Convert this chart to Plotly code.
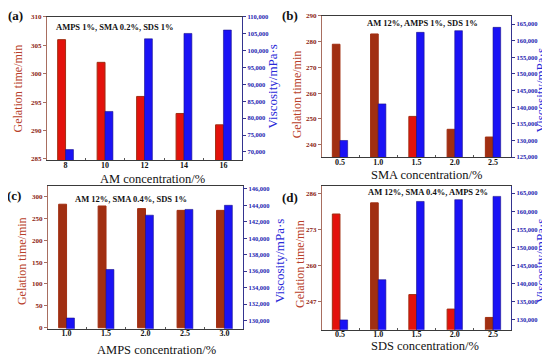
import plotly.graph_objects as go

# ---- data ----
am_conc = ["8", "10", "12", "14", "16"]
am_gel = [306, 302, 296, 293, 291]
am_visc = [70700, 82000, 103500, 105100, 106100]

sma_conc = ["0.5", "1.0", "1.5", "2.0", "2.5"]
sma_gel = [279, 283, 251, 246, 243]
sma_visc = [130000, 141000, 162500, 163000, 164000]

amps_conc = ["1.0", "1.5", "2.0", "2.5", "3.0"]
amps_gel = [282, 278, 272, 268, 268]
amps_visc = [130300, 136200, 142800, 143500, 144000]

sds_conc = ["0.5", "1.0", "1.5", "2.0", "2.5"]
sds_gel = [278.5, 282.5, 249.6, 244.4, 241.4]
sds_visc = [130000, 141100, 162700, 163200, 164100]

W, H = 550, 361
OX, OY = 8, 8   # page offset of the figure inside the browser window
RED = "#e3120c"
BROWN = "#a12f12"
BLUE = "#1a12f5"
FONT = "Liberation Serif"

def px(x):
    return (x - OX) / W

def py(y):
    return 1 - (y - OY) / H

panels = [
    dict(cats=am_conc, gel=am_gel, visc=am_visc,
         xd=(47, 242), yd=(13, 159),
         lrange=[284.8, 310], ltick=dict(tick0=285, dtick=5),
         rrange=[67600, 110000], rtick=dict(tick0=70000, dtick=5000),
         redcols=[RED, RED, RED, RED, RED],
         xtitle="AM concentration/%", xt=(152, 178),
         cond="AMPS 1%, SMA 0.2%, SDS 1%", ct=(115, 23),
         lab="(a)", lt=(15, 12), lti=(18, 86), rti=(273, 84)),
    dict(cats=sma_conc, gel=sma_gel, visc=sma_visc,
         xd=(322, 511), yd=(12, 156),
         lrange=[235.2, 290], ltick=dict(tick0=240, dtick=10),
         rrange=[125000, 167440], rtick=dict(tick0=125000, dtick=5000),
         redcols=[BROWN, BROWN, RED, BROWN, BROWN],
         xtitle="SMA concentration/%", xt=(426, 174),
         cond="AM 12%, AMPS 1%, SDS 1%", ct=(422, 19),
         lab="(b)", lt=(290, 12), lti=(297, 92), rti=(540, 88)),
    dict(cats=amps_conc, gel=amps_gel, visc=amps_visc,
         xd=(48, 243), yd=(185, 331),
         lrange=[-2.2, 324.6], ltick=dict(tick0=0, dtick=50),
         rrange=[129000, 146400], rtick=dict(tick0=130000, dtick=2000),
         redcols=[BROWN, BROWN, BROWN, BROWN, BROWN],
         xtitle="AMPS concentration/%", xt=(156, 353),
         cond="AM 12%, SMA 0.4%, SDS 1%", ct=(131, 199),
         lab="(c)", lt=(14, 195), lti=(22, 262), rti=(279, 262)),
    dict(cats=sds_conc, gel=sds_gel, visc=sds_visc,
         xd=(322, 511), yd=(185, 332),
         lrange=[237.0, 288.7], ltick=dict(tickvals=[247, 260, 273, 286]),
         rrange=[127290, 167090], rtick=dict(tick0=130000, dtick=5000),
         redcols=[RED, BROWN, RED, RED, BROWN],
         xtitle="SDS concentration/%", xt=(425, 349),
         cond="AM 12%, SMA 0.4%, AMPS 2%", ct=(428, 192),
         lab="(d)", lt=(290, 197), lti=(300, 265), rti=(540, 262)),
]

fig = go.Figure()
layout = {}
annotations = []

def ann(text, pos, font, angle=0):
    return dict(text=text, x=px(pos[0]), y=py(pos[1]),
                xref="paper", yref="paper", showarrow=False,
                xanchor="center", yanchor="middle", textangle=angle,
                font=font)

for i, p in enumerate(panels, start=1):
    xa = "x" if i == 1 else f"x{i}"
    ya = f"y{2*i-1}" if i > 1 else "y"
    yb = f"y{2*i}"
    xkey = "xaxis" if i == 1 else f"xaxis{i}"
    ykey = "yaxis" if i == 1 else f"yaxis{2*i-1}"
    ybkey = f"yaxis{2*i}"

    fig.add_trace(go.Bar(
        x=p["cats"], y=p["gel"], xaxis=xa, yaxis=ya,
        width=0.2, offset=-0.2,
        marker=dict(color=p["redcols"], line=dict(color=BROWN, width=1)),
        showlegend=False, name="Gelation time"))
    fig.add_trace(go.Bar(
        x=p["cats"], y=p["visc"], xaxis=xa, yaxis=yb,
        width=0.2, offset=0.0,
        marker=dict(color=BLUE, line=dict(color="#1a108a", width=0.6)),
        showlegend=False, name="Viscosity"))

    layout[xkey] = dict(
        domain=[px(p["xd"][0]), px(p["xd"][1])], anchor=ya,
        type="category", range=[-0.47, 4.47],
        showline=True, linecolor="#3a3a3a", linewidth=1, mirror=True,
        ticks="inside", ticklen=2, tickcolor="#555", tickson="boundaries",
        showgrid=False, zeroline=False, ticklabelstandoff=-3,
        tickfont=dict(family=FONT, size=8, color="#111", weight="bold"),
    )
    layout[ykey] = dict(
        domain=[py(p["yd"][1]), py(p["yd"][0])], anchor=xa,
        range=p["lrange"], showgrid=False, zeroline=False,
        showline=True, linecolor="#a86e60", linewidth=1.2,
        ticks="outside", ticklen=3, tickcolor="#a86e60",
        tickfont=dict(family=FONT, size=7, color="#8b1a10", weight="bold"),
        **p["ltick"],
    )
    layout[ybkey] = dict(
        overlaying=ya, side="right", anchor=xa,
        range=p["rrange"], showgrid=False, zeroline=False,
        showline=True, linecolor="#34348f", linewidth=1.2,
        ticks="outside", ticklen=3, tickcolor="#34348f",
        tickformat=",",
        tickfont=dict(family=FONT, size=6.5, color="#2323b0", weight="bold"),
        **p["rtick"],
    )

    annotations += [
        ann(p["xtitle"], p["xt"], dict(family=FONT, size=12.5, color="#111")),
        ann(p["cond"], p["ct"], dict(family=FONT, size=8.5, color="#111", weight="bold")),
        ann(p["lab"], p["lt"], dict(family=FONT, size=13, color="#111", weight="bold")),
        ann("Gelation time/min", p["lti"], dict(family=FONT, size=12, color="#b8402a"), -90),
        ann("Viscosity/mPa·s", p["rti"], dict(family=FONT, size=13, color="#2a2ad8"), -90),
    ]

fig.update_layout(
    width=W, height=H,
    margin=dict(l=0, r=0, t=0, b=0),
    paper_bgcolor="white", plot_bgcolor="white",
    barmode="overlay",
    showlegend=False,
    annotations=annotations,
    **layout,
)

fig.write_html("out.html")
